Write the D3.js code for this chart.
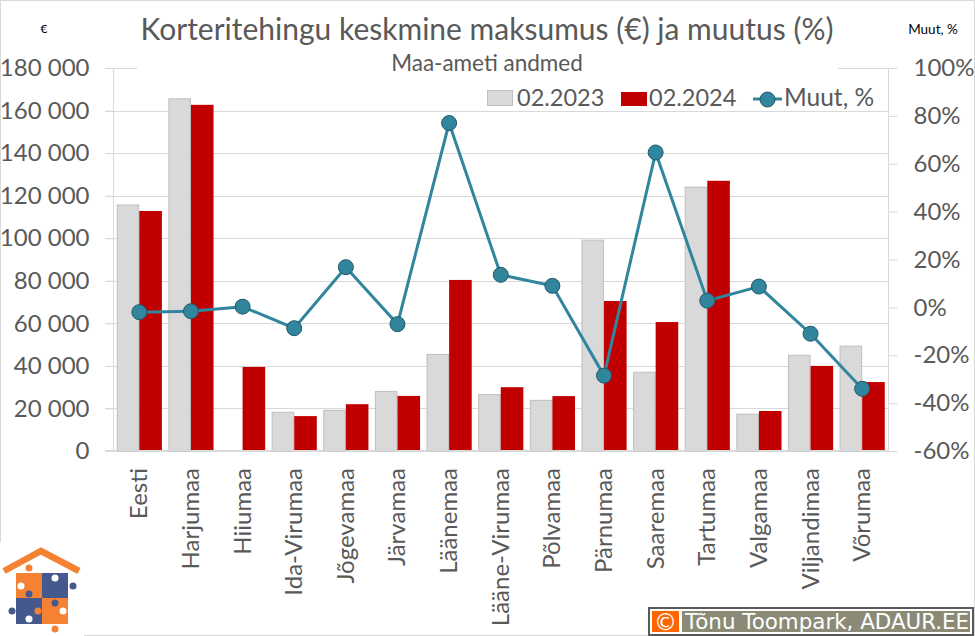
<!DOCTYPE html>
<html>
<head>
<meta charset="utf-8">
<script src="https://cdn.jsdelivr.net/npm/d3@7"></script>
<style>
html,body{margin:0;padding:0;background:#fff;}
svg{display:block;}
text{font-family:Lato,"Open Sans",sans-serif;fill:#595959;}
</style>
</head>
<body>
<svg width="975" height="636"></svg>
<script>
var data = [
	{name:"Eesti", a:115600, b:112800, m:-2},
	{name:"Harjumaa", a:165500, b:162700, m:-1.6},
	{name:"Hiiumaa", a:0, b:39500, m:0.3},
	{name:"Ida-Virumaa", a:18200, b:16400, m:-8.7},
	{name:"Jõgevamaa", a:19100, b:22000, m:16.8},
	{name:"Järvamaa", a:28000, b:25900, m:-7},
	{name:"Läänemaa", a:45400, b:80400, m:77},
	{name:"Lääne-Virumaa", a:26500, b:30000, m:13.6},
	{name:"Põlvamaa", a:23800, b:25800, m:9},
	{name:"Pärnumaa", a:99100, b:70500, m:-28.5},
	{name:"Saaremaa", a:37000, b:60600, m:64.7},
	{name:"Tartumaa", a:124000, b:127000, m:2.8},
	{name:"Valgamaa", a:17300, b:18800, m:8.7},
	{name:"Viljandimaa", a:45000, b:40000, m:-11},
	{name:"Võrumaa", a:49300, b:32400, m:-34}
];
var left = 113.5, right = 888, top_ = 68, bottom = 451;
var gray = "#d9d9d9", red = "#c00000", teal = "#31859c";

var svg = d3.select("svg");

// frame
svg.append("rect").attr("x",0.5).attr("y",0.5).attr("width",974).attr("height",635)
	.attr("fill","#fff").attr("stroke",gray);

var x = d3.scaleBand().domain(data.map(function(d){return d.name})).range([left,right]).paddingInner(0.125).paddingOuter(0.0625);
var y = d3.scaleLinear().domain([0,180000]).range([bottom,top_]);
var y2 = d3.scaleLinear().domain([-60,100]).range([bottom,top_]);
var bw = x.bandwidth()/2;

// grid
svg.append("g").selectAll("line").data(y.ticks(9)).enter().append("line")
	.attr("x1",105).attr("x2",right)
	.attr("y1",function(d){return Math.round(y(d))+0.5})
	.attr("y2",function(d){return Math.round(y(d))+0.5})
	.attr("stroke",gray).attr("stroke-width",1);

// top gridline is hidden behind the title box
svg.append("rect").attr("x",137).attr("y",55).attr("width",701).attr("height",22).attr("fill","#fff");
svg.append("line").attr("x1",838).attr("x2",897).attr("y1",68.5).attr("y2",68.5).attr("stroke",gray);

// axes
var fmt = function(d){return d3.format(",")(d).replace(/,/g," ")};
var yAxis = d3.axisLeft(y).ticks(9).tickFormat(fmt).tickSize(8).tickPadding(16);
var gy = svg.append("g").attr("transform","translate(113.5,0)").call(yAxis);
var y2Axis = d3.axisRight(y2).tickValues(d3.range(-60,101,20)).tickFormat(function(d){return d+"%"}).tickSize(9).tickPadding(16);
var gy2 = svg.append("g").attr("transform","translate(888.5,0)").call(y2Axis);
[gy,gy2].forEach(function(g){
	g.selectAll("path").attr("stroke",gray).attr("d",function(){return "M0,"+top_+"V"+bottom});
	g.selectAll("line").attr("stroke",gray);
	g.selectAll("text").style("font-size","24px").style("fill","#595959").style("font-family","Lato");
	g.attr("font-family",null);
});

// bars
svg.selectAll("rect.a").data(data.filter(function(d){return d.a>0})).enter().append("rect")
	.attr("class","a")
	.attr("x",function(d){return x(d.name)+0.5})
	.attr("y",function(d){return y(d.a)})
	.attr("width",bw-1)
	.attr("height",function(d){return bottom-y(d.a)})
	.attr("fill",gray).attr("stroke","#bfbfbf").attr("stroke-width",1);
svg.selectAll("rect.b").data(data).enter().append("rect")
	.attr("class","b")
	.attr("x",function(d){return x(d.name)+bw})
	.attr("y",function(d){return y(d.b)})
	.attr("width",bw)
	.attr("height",function(d){return bottom-y(d.b)})
	.attr("fill",red);

svg.append("line").attr("x1",105).attr("x2",right).attr("y1",450.5).attr("y2",450.5).attr("stroke",gray);

// line
var cx = function(d){return x(d.name)+x.bandwidth()/2};
var line = d3.line().x(cx).y(function(d){return y2(d.m)});
svg.append("path").datum(data).attr("d",line).attr("fill","none").attr("stroke",teal).attr("stroke-width",3);
svg.selectAll("circle.m").data(data).enter().append("circle")
	.attr("class","m")
	.attr("cx",cx).attr("cy",function(d){return y2(d.m)}).attr("r",7.5)
	.attr("fill",teal).attr("stroke","#205867").attr("stroke-width",1);

// category labels
svg.selectAll("text.cat").data(data).enter().append("text")
	.attr("class","cat")
	.attr("transform",function(d){return "translate("+(cx(d)+8)+",468) rotate(-90)"})
	.attr("text-anchor","end")
	.style("font-size","24px")
	.text(function(d){return d.name});

// titles
svg.append("text").attr("x",487).attr("y",40).attr("text-anchor","middle").style("font-size","30px").text("Korteritehingu keskmine maksumus (€) ja muutus (%)");
svg.append("text").attr("x",487).attr("y",71).attr("text-anchor","middle").style("font-size","22.5px").text("Maa-ameti andmed");
svg.append("text").attr("x",44).attr("y",33).attr("text-anchor","middle").style("font-size","12px").style("fill","#000").text("€");
svg.append("text").attr("x",933).attr("y",34).attr("text-anchor","middle").style("font-size","13.5px").style("fill","#000").text("Muut, %");

// legend
var lg = svg.append("g");
lg.append("rect").attr("x",487.5).attr("y",90.5).attr("width",25).attr("height",15).attr("fill",gray).attr("stroke","#bfbfbf");
lg.append("text").attr("x",517).attr("y",106).style("font-size","23.5px").text("02.2023");
lg.append("rect").attr("x",621).attr("y",92).attr("width",26).attr("height",14).attr("fill",red);
lg.append("text").attr("x",649).attr("y",106).style("font-size","23.5px").text("02.2024");
lg.append("line").attr("x1",753).attr("x2",782).attr("y1",99).attr("y2",99).attr("stroke",teal).attr("stroke-width",3);
lg.append("circle").attr("cx",767.5).attr("cy",99.5).attr("r",7.5).attr("fill",teal).attr("stroke","#205867");
lg.append("text").attr("x",784).attr("y",106).style("font-size","24.5px").text("Muut, %");

// logo
var logo = svg.append("g");
var orange = "#f58233", blue = "#45598f";
logo.append("rect").attr("x",0).attr("y",542).attr("width",84).attr("height",94).attr("fill","#fff");
logo.append("path").attr("d","M4,571 L41,551 L79,571").attr("fill","none").attr("stroke",orange).attr("stroke-width",6.5);
logo.append("rect").attr("x",16).attr("y",573).attr("width",26).attr("height",25).attr("fill",orange);
logo.append("rect").attr("x",42).attr("y",573).attr("width",26).attr("height",25).attr("fill",blue);
logo.append("rect").attr("x",16).attr("y",598).attr("width",26).attr("height",26).attr("fill",blue);
logo.append("rect").attr("x",42).attr("y",598).attr("width",26).attr("height",26).attr("fill",orange);
var knobs = [[29,568,orange],[55,578,"#fff"],[73,586,blue],[46,586,blue],[21,586,"#fff"],[29,594,blue],[12,611,blue],[38,611,orange],[29,619,"#fff"],[55,603,blue],[63,611,"#fff"],[55,629,orange]];
logo.selectAll("circle").data(knobs).enter().append("circle")
	.attr("cx",function(d){return d[0]}).attr("cy",function(d){return d[1]}).attr("r",3.5)
	.attr("fill",function(d){return d[2]});

// copyright box
var c = svg.append("g");
c.append("rect").attr("x",649).attr("y",608).attr("width",324).attr("height",27).attr("fill","#fff").attr("stroke","#595959").attr("stroke-width",2);
c.append("rect").attr("x",652).attr("y",611).attr("width",27).attr("height",21).attr("fill","#ff6600");
c.append("rect").attr("x",682).attr("y",611).attr("width",288).attr("height",21).attr("fill","#8a8a76");
c.append("text").attr("x",665.5).attr("y",630).attr("text-anchor","middle").style("font-family","'DejaVu Sans'").style("font-size","23px").style("fill","#fff").text("©");
c.append("text").attr("x",685).attr("y",629).style("font-family","'DejaVu Sans'").style("font-size","21.4px").style("fill","#fff").text("Tõnu Toompark, ADAUR.EE");
</script>
</body>
</html>
